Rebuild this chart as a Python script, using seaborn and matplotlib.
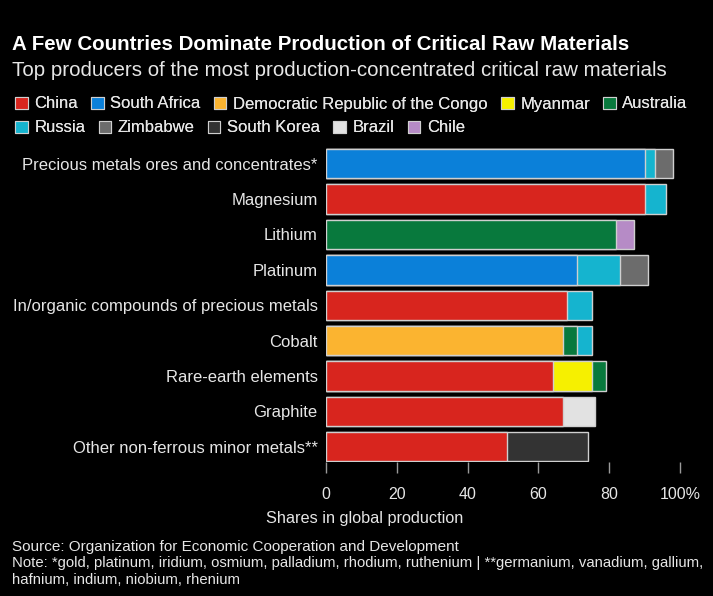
import pandas as pd
import matplotlib.pyplot as plt
import seaborn as sns
from matplotlib.patches import Patch

# materials, top to bottom
materials = [
    'Precious metals ores and concentrates*',
    'Magnesium',
    'Lithium',
    'Platinum',
    'In/organic compounds of precious metals',
    'Cobalt',
    'Rare-earth elements',
    'Graphite',
    'Other non-ferrous minor metals**',
]

# share of global production (%) per country, aligned with materials
china = [0, 90, 0, 0, 68, 0, 64, 67, 51]
south_africa = [90, 0, 0, 71, 0, 0, 0, 0, 0]
drc = [0, 0, 0, 0, 0, 67, 0, 0, 0]
myanmar = [0, 0, 0, 0, 0, 0, 11, 0, 0]
australia = [0, 0, 82, 0, 0, 4, 4, 0, 0]
russia = [3, 6, 0, 12, 7, 4, 0, 0, 0]
zimbabwe = [5, 0, 0, 8, 0, 0, 0, 0, 0]
south_korea = [0, 0, 0, 0, 0, 0, 0, 0, 23]
brazil = [0, 0, 0, 0, 0, 0, 0, 9, 0]
chile = [0, 0, 5, 0, 0, 0, 0, 0, 0]

countries = ['China', 'South Africa', 'Democratic Republic of the Congo', 'Myanmar',
             'Australia', 'Russia', 'Zimbabwe', 'South Korea', 'Brazil', 'Chile']
shares = [china, south_africa, drc, myanmar, australia, russia, zimbabwe,
          south_korea, brazil, chile]
colors = ['#d8251e', '#0b80d9', '#fbb430', '#f6f000', '#08793d',
          '#15b4cf', '#6c6c6c', '#333333', '#e2e2e2', '#b68bc6']
palette = dict(zip(countries, colors))

# long table with cumulative end of each segment
rows = []
for mi, m in enumerate(materials):
    cum = 0
    for c, vals in zip(countries, shares):
        v = vals[mi]
        if v > 0:
            cum += v
            rows.append({'material': m, 'country': c, 'share': v, 'cum': cum})
df = pd.DataFrame(rows)

sns.set_style('dark')
plt.rcParams['font.family'] = ['Liberation Sans', 'DejaVu Sans']

fig = plt.figure(figsize=(7.13, 5.96), dpi=100, facecolor='black')
ax = fig.add_axes([326 / 713, 1 - 462 / 596, 354 / 713, 316 / 596])
ax.set_facecolor('black')

# draw the stacks back to front so each segment sits on top of the longer ones
for c in reversed(countries):
    sub = df[df['country'] == c]
    if sub.empty:
        continue
    sns.barplot(data=sub, x='cum', y='material', hue='country', palette=palette,
                order=materials, dodge=False, width=0.83, edgecolor='#cfcfcf',
                linewidth=1, saturation=1, legend=False, ax=ax)

ax.set_xlim(0, 100)
ax.set_ylim(8.43, -0.5)
ax.set_xticks([0, 20, 40, 60, 80, 100])
ax.set_xticklabels(['0', '20', '40', '60', '80', '100%'])
ax.tick_params(axis='x', bottom=True, colors='#9a9a9a', length=8, width=1, pad=10,
               labelcolor='#e6e6e6', labelsize=11.5)
ax.tick_params(axis='y', left=False, length=0, pad=6, labelcolor='#e6e6e6', labelsize=12)
ax.set_xlabel('')
ax.set_ylabel('')
ax.grid(False)
for s in ax.spines.values():
    s.set_visible(False)

fig.text(12 / 713, 1 - 45 / 596, 'A Few Countries Dominate Production of Critical Raw Materials',
         color='white', fontsize=14.8, fontweight='bold', va='center')
fig.text(12 / 713, 1 - 70 / 596,
         'Top producers of the most production-concentrated critical raw materials',
         color='#e6e6e6', fontsize=14.8, va='center')

handles = [Patch(facecolor=palette[c], edgecolor='#cfcfcf', linewidth=0.8, label=c)
           for c in countries]
for i, y in enumerate([104, 128]):
    leg = fig.legend(handles=handles[i * 5:(i + 1) * 5], ncol=5, loc='center left',
                     bbox_to_anchor=(15 / 713, 1 - y / 596), frameon=False,
                     fontsize=12, handlelength=0.75, handleheight=0.75,
                     handletextpad=0.4, columnspacing=0.8, labelcolor='#e6e6e6',
                     borderaxespad=0, borderpad=0)
    fig.add_artist(leg)

fig.text(365 / 713, 1 - 519 / 596, 'Shares in global production',
         color='#e6e6e6', fontsize=11.7, ha='center', va='center')
fig.text(12 / 713, 1 - 547 / 596,
         'Source: Organization for Economic Cooperation and Development',
         color='#e6e6e6', fontsize=11, va='center')
fig.text(12 / 713, 1 - 571.5 / 596,
         'Note: *gold, platinum, iridium, osmium, palladium, rhodium, ruthenium | '
         '**germanium, vanadium, gallium,\nhafnium, indium, niobium, rhenium',
         color='#e6e6e6', fontsize=10.7, va='center', linespacing=1.2)

plt.savefig('out.png', facecolor='black')
